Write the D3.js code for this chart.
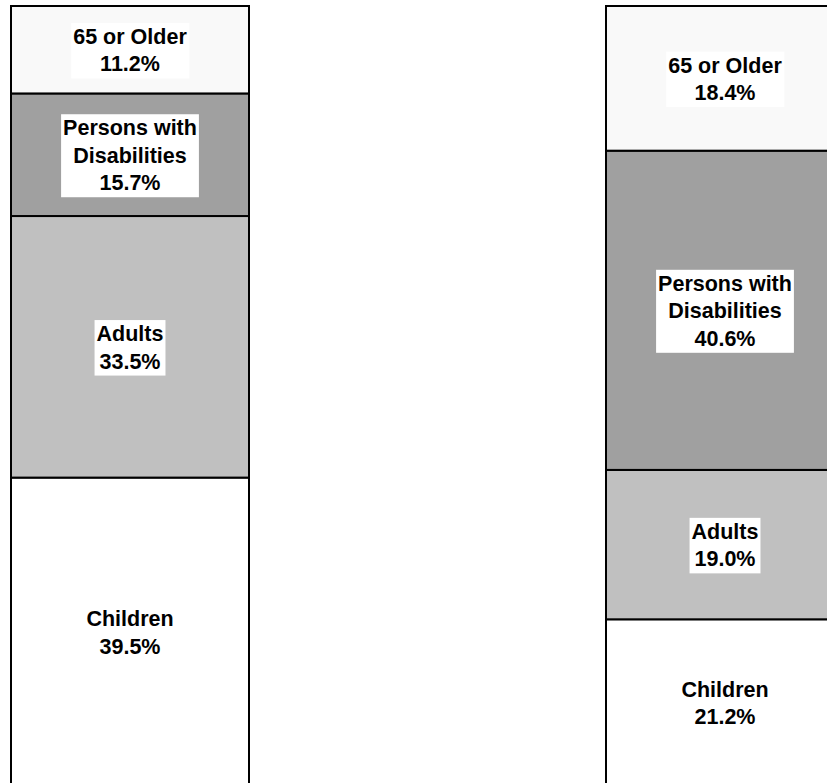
<!DOCTYPE html>
<html>
<head>
<meta charset="utf-8">
<script src="https://cdn.jsdelivr.net/npm/d3@7"></script>
<style>
  html, body { margin: 0; padding: 0; background: #ffffff; }
  svg { display: block; }
</style>
</head>
<body>
<script>
// Share of each group, stacked from the bottom up.
const groups = ["Enrollees", "Expenditures"];
const categories = ["Children", "Adults", "Persons with Disabilities", "65 or Older"];
const labelLines = [["Children"], ["Adults"], ["Persons with", "Disabilities"], ["65 or Older"]];
const enrollees = [39.5, 33.5, 15.7, 11.2];
const expenditures = [21.2, 19.0, 40.6, 18.4];
const fills = ["#ffffff", "#c0c0c0", "#a0a0a0", "#f9f9f9"];

const width = 827, height = 783;
const plotTop = 6, plotBottom = 786;
const fontSize = 21.5, lineGap = 27.5;

const svg = d3.select("body").append("svg")
  .attr("width", width)
  .attr("height", height);

const x = d3.scaleBand()
  .domain(groups)
  .range([11, 844])
  .paddingInner(0.6)
  .paddingOuter(0);

const rows = groups.map((g, gi) => {
  const vals = gi === 0 ? enrollees : expenditures;
  const row = { group: g };
  categories.forEach((c, i) => { row[c] = vals[i]; });
  return row;
});

const series = d3.stack().keys(categories)(rows);

groups.forEach((g, gi) => {
  const total = d3.sum(categories, c => rows[gi][c]);
  const y = d3.scaleLinear().domain([0, total]).range([plotBottom, plotTop]);
  const bar = svg.append("g");

  series.forEach((s, si) => {
    const d = s[gi];
    const y0 = y(d[0]), y1 = y(d[1]);
    bar.append("rect")
      .attr("x", x(g))
      .attr("y", y1)
      .attr("width", x.bandwidth())
      .attr("height", y0 - y1)
      .attr("fill", fills[si])
      .attr("stroke", "#000")
      .attr("stroke-width", 2);
  });

  series.forEach((s, si) => {
    const d = s[gi];
    const cy = (y(d[0]) + y(d[1])) / 2;
    const cx = x(g) + x.bandwidth() / 2;
    const lines = labelLines[si].concat([d3.format(".1f")(d[1] - d[0]) + "%"]);
    const first = cy - (lines.length - 1) * lineGap / 2 + 8;

    const lab = bar.append("g");
    const box = lab.append("rect").attr("fill", "#ffffff");
    const txt = lab.append("text")
      .attr("text-anchor", "middle")
      .attr("font-family", "'Liberation Sans', Arial, Helvetica, sans-serif")
      .attr("font-weight", "bold")
      .attr("font-size", fontSize)
      .attr("fill", "#000");
    lines.forEach((t, li) => {
      txt.append("tspan")
        .attr("x", cx)
        .attr("y", first + li * lineGap)
        .text(t);
    });
    const bb = txt.node().getBBox();
    box.attr("x", bb.x - 2)
      .attr("y", bb.y - 2)
      .attr("width", bb.width + 4)
      .attr("height", bb.height + 4);
  });
});
</script>
</body>
</html>
